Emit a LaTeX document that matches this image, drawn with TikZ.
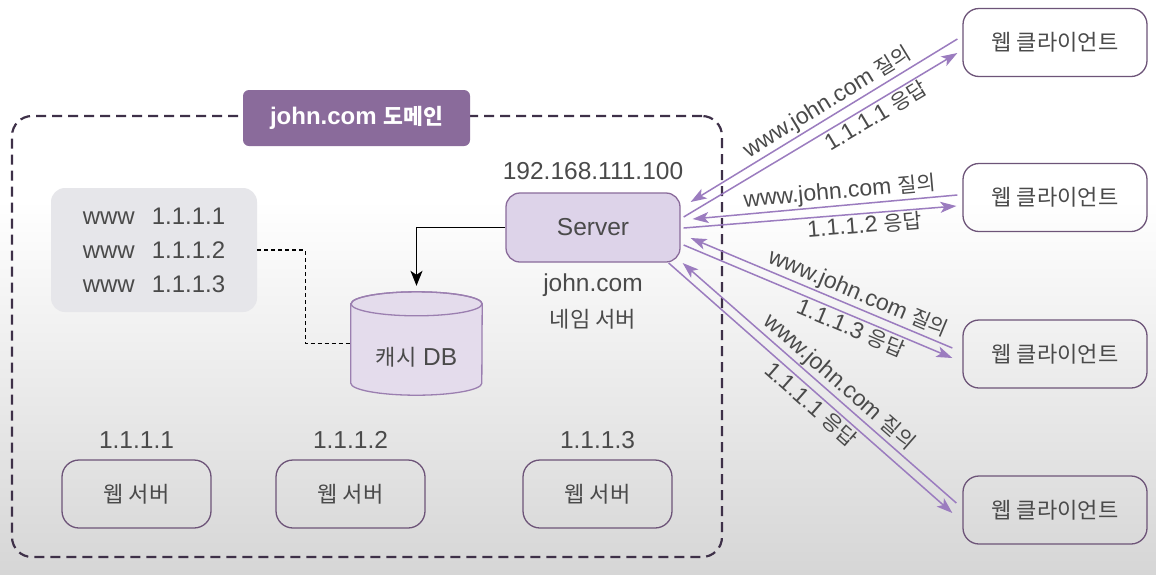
\documentclass[tikz,border=0pt]{standalone}
\usepackage{fontspec}
\setmainfont{Liberation Sans}
\newfontfamily\kr{Noto Sans CJK KR}[Scale=0.9]
\usetikzlibrary{arrows.meta,calc,positioning}
\definecolor{txt}{HTML}{4A4A4A}
\definecolor{bgbot}{HTML}{D6D6D6}
\definecolor{domc}{HTML}{3E3048}
\definecolor{lblc}{HTML}{8A6B9B}
\definecolor{lstc}{HTML}{E6E6EA}
\definecolor{srvfill}{HTML}{DDD3E9}
\definecolor{srvline}{HTML}{8A6B9B}
\definecolor{dbfill}{HTML}{E4DCEC}
\definecolor{dbline}{HTML}{9B7FB0}
\definecolor{boxline}{HTML}{6D5478}
\definecolor{arrc}{HTML}{9B7CBF}
\begin{document}
\begin{tikzpicture}[x=1pt,y=-1pt,
  every node/.style={font=\fontsize{24.5}{28}\selectfont, text=txt},
  boxnode/.style={draw=boxline, line width=1.3pt, rounded corners=17pt, inner sep=0pt},
  parr/.style={draw=arrc, line width=1.5pt, -{Stealth[length=16pt,width=11pt,inset=4pt]}},
  lbl/.style={font=\fontsize{23}{25}\selectfont, text=txt, sloped, inner sep=1.5pt}]
\useasboundingbox (0,0) rectangle (1156,574);
\fill[white] (0,0) rectangle (1156,574);
\shade[top color=white, bottom color=bgbot] (0,200) rectangle (1156,574);

% domain
\node[draw=domc, line width=2.2pt, dash pattern=on 10pt off 6pt, rounded corners=20pt,
      minimum width=710pt, minimum height=441pt, inner sep=0pt] (dom) at (367,336.5) {};
\node[fill=lblc, rounded corners=6pt, minimum width=227pt, minimum height=56pt, inner sep=0pt,
      text=white, font=\fontsize{24}{28}\selectfont\bfseries] (domlbl) at (356.5,118) {john.com {\kr 도메인}};

% list
\node[fill=lstc, rounded corners=14pt, minimum width=206pt, minimum height=124pt, inner sep=0pt,
      align=left, font=\fontsize{24}{34}\selectfont] (lst) at (154,250)
      {www\hspace{17pt}1.1.1.1\\www\hspace{17pt}1.1.1.2\\www\hspace{17pt}1.1.1.3};

% cache DB cylinder
\node[minimum width=131pt, minimum height=103pt, inner sep=0pt] (db) at (416.5,343.5) {};
\path[fill=dbfill, draw=dbline, line width=1.3pt]
  ($(db.north west)+(0,12)$) -- ($(db.south west)+(0,-12)$)
  arc[start angle=180, end angle=360, x radius=65.5pt, y radius=12pt]
  -- ($(db.north east)+(0,12)$)
  arc[start angle=0, end angle=180, x radius=65.5pt, y radius=12pt] -- cycle;
\draw[dbline, line width=1.3pt] ($(db.north)+(0,12)$) ellipse [x radius=65.5pt, y radius=12pt];
\node (dbtxt) at (416.5,357) {{\kr 캐시} DB};

\draw[black, line width=1.2pt, dash pattern=on 4pt off 3pt] (lst.east) -- ++(48,0) |- (db.west);

% server
\node[fill=srvfill, draw=srvline, line width=1.3pt, rounded corners=14pt,
      minimum width=174pt, minimum height=69pt, inner sep=0pt] (srv) at (593,227.5) {Server};
\node (ip) at (593,171) {192.168.111.100};
\node (jc) at (593,285) {john.com};
\node (ns) at (593,319) {\kr 네임 서버};

\draw[black, line width=1.4pt, -{Stealth[length=15pt,width=12pt,inset=4pt]}, shorten >=6pt]
  (srv.west) -| (db.north);

% web servers
\foreach \n/\x/\ip in {1/136.5/1.1.1.1, 2/350.5/1.1.1.2, 3/597.5/1.1.1.3}{
  \node[boxnode, minimum width=149pt, minimum height=68pt] (ws\n) at (\x,494) {\kr 웹 서버};
  \node[above=7pt of ws\n] (wsl\n) {\ip};
}

% clients
\foreach \n/\y in {1/42.5, 2/197.5, 3/354, 4/510}{
  \node[boxnode, minimum width=184pt, minimum height=68pt, rounded corners=16pt] (c\n) at (1055,\y) {\kr 웹 클라이언트};
}

% pair 1
\draw[parr] ($(c1.west)+(-5,-3.5)$) -- node[lbl, above, pos=0.46] {www.john.com {\kr 질의}} ($(srv.east)+(10,-25.5)$);
\draw[parr] ($(srv.east)+(3,-10.5)$) -- node[lbl, below, pos=0.68] {1.1.1.1 {\kr 응답}} ($(c1.west)+(-5,10.5)$);
% pair 2
\draw[parr] ($(c2.west)+(-5,-2.5)$) -- node[lbl, above, pos=0.44] {www.john.com {\kr 질의}} ($(srv.east)+(12,-8.5)$);
\draw[parr] ($(srv.east)+(3,0.5)$) -- node[lbl, below, pos=0.66] {1.1.1.2 {\kr 응답}} ($(c2.west)+(-6,8.5)$);
% pair 3
\draw[parr] ($(c3.west)+(-10,-6)$) -- node[lbl, above, pos=0.38] {www.john.com {\kr 질의}} ($(srv.east)+(10,10.5)$);
\draw[parr] ($(srv.east)+(3,17.5)$) -- node[lbl, below, pos=0.64] {1.1.1.3 {\kr 응답}} ($(c3.west)+(-10,4)$);
% pair 4
\draw[parr] ($(c4.west)+(-6,-7)$) -- node[lbl, above, pos=0.46] {www.john.com {\kr 질의}} ($(srv.east)+(2,35.5)$);
\draw[parr] ($(srv.east)+(-12,35.5)$) -- node[lbl, below, pos=0.53] {1.1.1.1 {\kr 응답}} ($(c4.west)+(-10,3)$);
\end{tikzpicture}
\end{document}
